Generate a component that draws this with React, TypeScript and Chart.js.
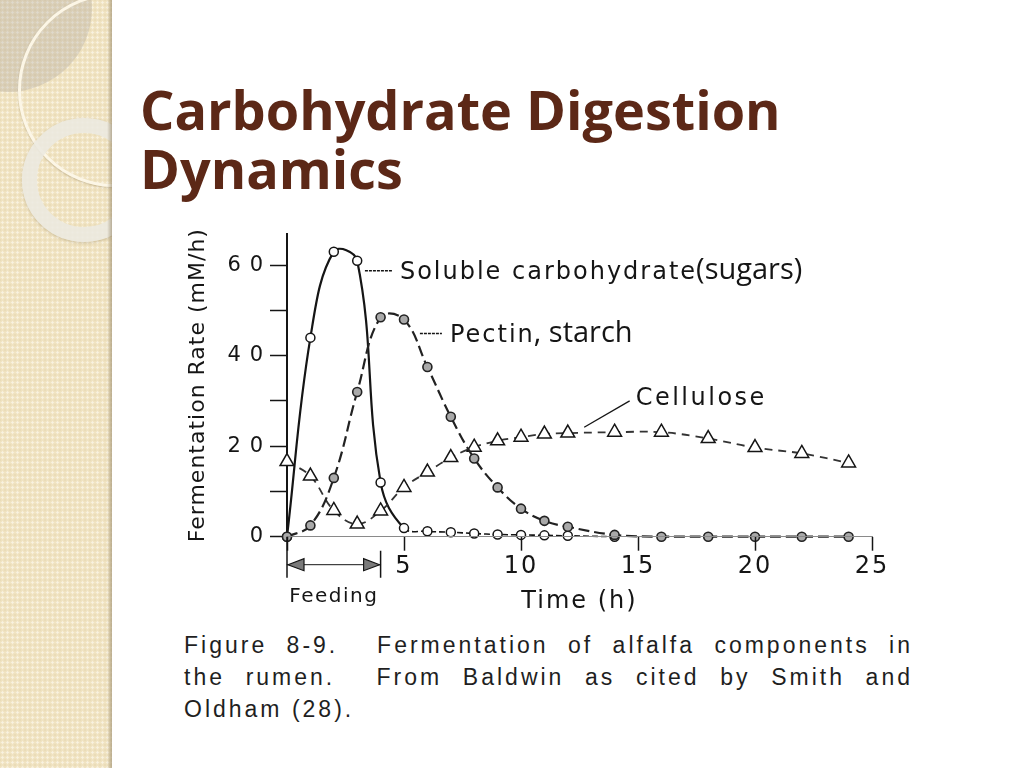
import { useEffect, useRef } from 'react'
import { Chart, registerables } from 'chart.js'

Chart.register(...registerables)

// Values: time after feeding (h) and fermentation rate (mM/h)
const solubleHours = [0, 1, 2, 3, 4, 5, 6, 7, 8, 9, 10, 11, 12, 14]
const solubleRate = [0, 44, 63, 61, 12, 1.9, 1.2, 1, 0.7, 0.5, 0.4, 0.3, 0.2, 0]

const pectinHours = [0, 1, 2, 3, 4, 5, 6, 7, 8, 9, 10, 11, 12, 14, 16, 18, 20, 22, 24]
const pectinRate = [0, 2.5, 13, 32, 48.5, 48, 37.5, 26.5, 17.3, 10.9, 6.2, 3.5, 2.2, 0.4, 0, 0, 0, 0, 0]

const celluloseHours = [0, 1, 2, 3, 4, 5, 6, 7, 8, 9, 10, 11, 12, 14, 16, 18, 20, 22, 24]
const celluloseRate = [16.6, 13.4, 5.8, 2.8, 5.7, 10.9, 14.3, 17.5, 19.8, 21.2, 22, 22.7, 22.9, 23.1, 23.1, 21.7, 19.7, 18.4, 16.3]

const timeTicks = [0, 5, 10, 15, 20, 25]
const rateTicks = [0, 10, 20, 30, 40, 50, 60]
const rateLabels = [0, 20, 40, 60]
const feedingWindow = [0, 4]

const INK = '#151515'
const SCAN = 'DejaVu Sans'
const SLIDE = 'Open Sans'

// where the curve names sit, in data units (hour, rate)
const curveNotes = [
  { name: 'Soluble carbohydrate', tail: '(sugars)', hour: 3.33, rate: 58.8, leader: 27 },
  { name: 'Pectin', tail: ', starch', hour: 5.68, rate: 44.9, leader: 22 },
]
const cellNote = { name: 'Cellulose', hour: 14.9, rate: 30.9, fromHour: 12.7, fromRate: 24.2 }

const pairs = (xs: number[], ys: number[]) => xs.map((h, i) => ({ x: h, y: ys[i] }))

const scanText = {
  id: 'scanText',
  beforeDraw(chart: any) {
    chart.ctx.letterSpacing = '1px'
  },
  afterDatasetsDraw(chart: any) {
    chart.ctx.letterSpacing = '2px'
  },
  afterDraw(chart: any) {
    const { ctx, chartArea } = chart
    const x = chart.scales.x
    const y = chart.scales.y
    ctx.save()
    ctx.strokeStyle = INK
    ctx.fillStyle = INK
    ctx.textBaseline = 'alphabetic'
    ctx.textAlign = 'left'

    for (const note of curveNotes) {
      const px = x.getPixelForValue(note.hour)
      const py = y.getPixelForValue(note.rate)
      ctx.lineWidth = 1.5
      ctx.setLineDash([3, 1])
      ctx.beginPath()
      ctx.moveTo(px, py)
      ctx.lineTo(px + note.leader, py)
      ctx.stroke()
      ctx.setLineDash([])
      ctx.letterSpacing = '2px'
      ctx.font = `24px "${SCAN}"`
      const tx = px + note.leader + 8
      ctx.fillText(note.name, tx, py + 8)
      const w = ctx.measureText(note.name).width
      ctx.letterSpacing = '0px'
      ctx.font = `29px "${SLIDE}"`
      ctx.fillText(note.tail, tx + w - 1, py + 8)
    }

    const cx = x.getPixelForValue(cellNote.hour)
    const cy = y.getPixelForValue(cellNote.rate)
    ctx.lineWidth = 1.3
    ctx.beginPath()
    ctx.moveTo(x.getPixelForValue(cellNote.fromHour), y.getPixelForValue(cellNote.fromRate))
    ctx.lineTo(cx - 6, cy + 4)
    ctx.stroke()
    ctx.letterSpacing = '2.5px'
    ctx.font = `24px "${SCAN}"`
    ctx.fillText(cellNote.name, cx, cy + 8)

    // feeding period arrow under the time axis
    const xa = x.getPixelForValue(feedingWindow[0])
    const xb = x.getPixelForValue(feedingWindow[1])
    const base = chartArea.bottom
    const ay = base + 28
    ctx.lineWidth = 1.5
    ctx.beginPath()
    ctx.moveTo(xa, base)
    ctx.lineTo(xa, base + 41)
    ctx.moveTo(xb, base + 14)
    ctx.lineTo(xb, base + 41)
    ctx.stroke()
    ctx.lineWidth = 1
    ctx.beginPath()
    ctx.moveTo(xa, ay)
    ctx.lineTo(xb, ay)
    ctx.stroke()
    ctx.fillStyle = '#7a7a7a'
    ctx.lineWidth = 1.2
    for (const [tip, dir] of [[xa + 1, 1], [xb - 1, -1]]) {
      ctx.beginPath()
      ctx.moveTo(tip, ay)
      ctx.lineTo(tip + dir * 16, ay - 6)
      ctx.lineTo(tip + dir * 16, ay + 6)
      ctx.closePath()
      ctx.fill()
      ctx.stroke()
    }
    ctx.fillStyle = INK
    ctx.letterSpacing = '1.5px'
    ctx.font = `20px "${SCAN}"`
    ctx.textAlign = 'center'
    ctx.fillText('Feeding', (xa + xb) / 2, base + 65)

    ctx.restore()
    ctx.letterSpacing = '0px'
  },
}

function FermentationChart() {
  const canvasRef = useRef<HTMLCanvasElement>(null)

  useEffect(() => {
    if (!canvasRef.current) return
    Chart.defaults.font.family = SCAN
    const chart = new Chart(canvasRef.current, {
      type: 'line',
      data: {
        datasets: [
          {
            label: 'Soluble carbohydrate',
            data: pairs(solubleHours, solubleRate),
            borderColor: INK,
            borderWidth: 2.2,
            tension: 0.4,
            pointStyle: 'circle',
            pointRadius: 4.5,
            pointBackgroundColor: '#ffffff',
            pointBorderColor: INK,
            pointBorderWidth: 1.5,
            segment: {
              borderDash: (c: any) => (solubleHours[c.p0DataIndex] >= 5 ? [6, 3] : undefined),
              borderWidth: (c: any) => (solubleHours[c.p0DataIndex] >= 5 ? 1.6 : undefined),
            },
            clip: false,
            order: 3,
          },
          {
            label: 'Pectin',
            data: pairs(pectinHours, pectinRate),
            borderColor: '#222222',
            borderWidth: 2.2,
            borderDash: [11, 5],
            tension: 0.4,
            pointStyle: 'circle',
            pointRadius: 4.5,
            pointBackgroundColor: '#a9a9a9',
            pointBorderColor: '#222222',
            pointBorderWidth: 1.6,
            clip: false,
            order: 1,
          },
          {
            label: 'Cellulose',
            data: pairs(celluloseHours, celluloseRate),
            borderColor: '#333333',
            borderWidth: 1.8,
            borderDash: [8, 6],
            tension: 0.4,
            pointStyle: 'triangle',
            pointRadius: 8,
            pointBackgroundColor: '#ffffff',
            pointBorderColor: INK,
            pointBorderWidth: 1.5,
            clip: false,
            order: 2,
          },
        ],
      },
      options: {
        responsive: false,
        animation: false,
        layout: { padding: { top: 12, right: 57, left: 0, bottom: 0 } },
        plugins: { legend: { display: false }, tooltip: { enabled: false } },
        scales: {
          x: {
            type: 'linear',
            position: 'bottom',
            min: 0,
            max: 25,
            afterBuildTicks: (s: any) => {
              s.ticks = timeTicks.map((v) => ({ value: v }))
            },
            afterFit: (s: any) => {
              s.height = 88.3
            },
            grid: { drawOnChartArea: false, tickLength: 14, tickWidth: 1.5, tickColor: INK, z: 1 },
            border: { color: '#8a8a8a', width: 1, z: 1 },
            ticks: {
              z: 1,
              padding: 2,
              autoSkip: false,
              maxRotation: 0,
              color: INK,
              font: { family: SCAN, size: 24 },
              callback: (v: any) => (v === 0 ? '' : String(v)),
            },
            title: {
              display: true,
              text: 'Time (h)',
              color: INK,
              font: { family: SCAN, size: 24 },
              padding: { top: 0, bottom: 9 },
            },
          },
          y: {
            type: 'linear',
            position: 'left',
            min: 0,
            max: 67,
            afterBuildTicks: (s: any) => {
              s.ticks = rateTicks.map((v) => ({ value: v }))
            },
            afterFit: (s: any) => {
              s.width = 118
            },
            grid: { drawOnChartArea: false, tickLength: 17, tickWidth: 1.5, tickColor: INK },
            border: { color: INK, width: 2 },
            ticks: {
              padding: 6,
              color: INK,
              font: { family: SCAN, size: 21 },
              callback: (v: any) => (rateLabels.includes(v) ? String(v).split('').join(' ') : ''),
            },
            title: {
              display: true,
              text: 'Fermentation Rate (mM/h)',
              color: INK,
              font: { family: SCAN, size: 22 },
              padding: { top: 16, bottom: 0 },
            },
          },
        },
      },
      plugins: [scanText],
    } as any)
    return () => chart.destroy()
  }, [])

  return (
    <canvas
      ref={canvasRef}
      width={760}
      height={410}
      style={{ position: 'absolute', left: 169, top: 215 }}
      role="img"
      aria-label="Fermentation rate of alfalfa components in the rumen over time"
    />
  )
}

function SideStrip() {
  return (
    <div
      style={{
        position: 'absolute',
        left: 0,
        top: 0,
        width: 112,
        height: 768,
        overflow: 'hidden',
        backgroundColor: '#f1e4c3',
        backgroundImage:
          'radial-gradient(rgba(255,255,255,0.5) 0.9px, transparent 1.4px), radial-gradient(rgba(200,178,125,0.25) 0.9px, transparent 1.4px)',
        backgroundSize: '5px 5px, 5px 5px',
        backgroundPosition: '0 0, 2.5px 2.5px',
      }}
    >
      <div
        style={{
          position: 'absolute',
          left: -76,
          top: -76,
          width: 168,
          height: 168,
          borderRadius: '50%',
          background: 'rgba(165,160,155,0.3)',
        }}
      />
      <div
        style={{
          position: 'absolute',
          left: 18,
          top: -7,
          width: 194,
          height: 194,
          boxSizing: 'border-box',
          borderRadius: '50%',
          border: '3px solid #fcf6e6',
          boxShadow: '0 1px 2px rgba(120,100,60,0.35)',
        }}
      />
      <div
        style={{
          position: 'absolute',
          left: 22,
          top: 118,
          width: 124,
          height: 124,
          boxSizing: 'border-box',
          borderRadius: '50%',
          border: '15px solid rgba(236,233,224,0.88)',
          boxShadow: '0 1px 3px rgba(120,100,60,0.3)',
        }}
      />
      <div
        style={{
          position: 'absolute',
          right: 0,
          top: 0,
          width: 5,
          height: 768,
          background: 'linear-gradient(to right, rgba(160,145,115,0), rgba(140,125,95,0.55))',
        }}
      />
    </div>
  )
}

export default function App() {
  return (
    <div
      style={{
        position: 'absolute',
        left: 0,
        top: 0,
        width: 1024,
        height: 768,
        overflow: 'hidden',
        background: '#ffffff',
      }}
    >
      <SideStrip />
      <div
        style={{
          position: 'absolute',
          left: 140,
          top: 80,
          fontFamily: `"${SLIDE}", sans-serif`,
          fontWeight: 700,
          fontSize: 54,
          lineHeight: '59px',
          color: '#5c2817',
          whiteSpace: 'nowrap',
        }}
      >
        Carbohydrate Digestion
        <br />
        Dynamics
      </div>
      <FermentationChart />
      <div
        style={{
          position: 'absolute',
          left: 184,
          top: 629,
          width: 729,
          fontFamily: '"Liberation Sans", sans-serif',
          fontSize: 23,
          lineHeight: '32px',
          letterSpacing: '3px',
          color: '#1f1f1f',
        }}
      >
        <div style={{ textAlign: 'justify', textAlignLast: 'justify' }}>
          Figure 8-9.{'\u00a0'} Fermentation of alfalfa components in
        </div>
        <div style={{ textAlign: 'justify', textAlignLast: 'justify' }}>
          the rumen.{'\u00a0'} From Baldwin as cited by Smith and
        </div>
        <div>Oldham (28).</div>
      </div>
    </div>
  )
}
